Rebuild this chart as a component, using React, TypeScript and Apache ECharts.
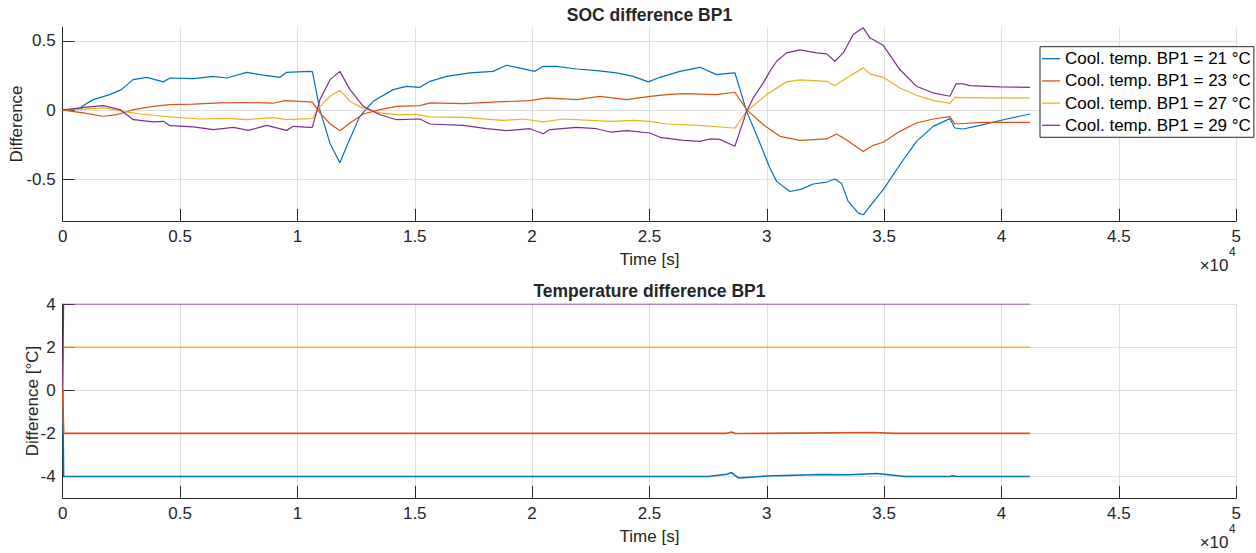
import React, { useEffect, useRef } from "react";
import * as echarts from "echarts";

const FONT = '"Liberation Sans", Arial, Helvetica, sans-serif';
const AX = "#262626";
const GRID = "#dfdfdf";

const seriesNames = [
  "Cool. temp. BP1 = 21 °C",
  "Cool. temp. BP1 = 23 °C",
  "Cool. temp. BP1 = 27 °C",
  "Cool. temp. BP1 = 29 °C",
];
const colors = ["#0072BD", "#D95319", "#EDB120", "#7E2F8E"];

const socYTicks = [-0.5, 0, 0.5];
const tempYTicks = [-4, -2, 0, 2, 4];

// SOC difference, 21 °C
const soc21T = [0, 800, 810, 1300, 2000, 2500, 3000, 3580, 4290, 4570, 5560, 6420, 6990, 7840, 8400, 9260, 9540, 10530, 10640, 10960, 11390, 11810, 12100, 12660, 13230, 14080, 14650, 15220, 15650, 16360, 17350, 18340, 18910, 19340, 20120, 20470, 21040, 21900, 22750, 23600, 24310, 24950, 25450, 26300, 27150, 27860, 28570, 28640, 29140, 29560, 29850, 30130, 30420, 30980, 31480, 31980, 32550, 32900, 33190, 33470, 33900, 34110, 34390, 34960, 35670, 36380, 37090, 37800, 38010, 38370, 39220, 40220, 41210];
const soc21V = [0, 0.01, 0.027, 0.076, 0.112, 0.148, 0.22, 0.237, 0.204, 0.232, 0.227, 0.244, 0.232, 0.273, 0.256, 0.237, 0.273, 0.28, 0.278, 0.0, -0.24, -0.38, -0.26, -0.045, 0.064, 0.148, 0.172, 0.165, 0.208, 0.244, 0.269, 0.28, 0.324, 0.309, 0.28, 0.316, 0.316, 0.297, 0.285, 0.269, 0.244, 0.204, 0.237, 0.28, 0.309, 0.256, 0.269, 0.27, -0.009, -0.177, -0.298, -0.418, -0.514, -0.587, -0.57, -0.533, -0.519, -0.497, -0.53, -0.659, -0.743, -0.755, -0.695, -0.574, -0.394, -0.225, -0.117, -0.061, -0.129, -0.136, -0.105, -0.064, -0.028];

// SOC difference, 23 °C
const soc23T = [0, 880, 1730, 2300, 3010, 3860, 4570, 5570, 6700, 7840, 8970, 9470, 10530, 10640, 10960, 11390, 11810, 12240, 12810, 13520, 14230, 15220, 15650, 17070, 18490, 19910, 20620, 21900, 22890, 24030, 25020, 25730, 26440, 27860, 28640, 29140, 29850, 30560, 31410, 32550, 32970, 33260, 34110, 34530, 34960, 35670, 36380, 37090, 37800, 38010, 39220, 41210];
const soc23V = [0, -0.02, -0.044, -0.033, 0.004, 0.027, 0.04, 0.044, 0.052, 0.055, 0.05, 0.069, 0.059, 0.058, -0.02, -0.098, -0.148, -0.093, -0.028, 0.004, 0.027, 0.033, 0.052, 0.047, 0.059, 0.069, 0.088, 0.076, 0.1, 0.076, 0.1, 0.112, 0.119, 0.112, 0.129, 0.004, -0.105, -0.189, -0.218, -0.208, -0.172, -0.2, -0.298, -0.254, -0.232, -0.153, -0.093, -0.064, -0.047, -0.1, -0.088, -0.088];

// SOC difference, 27 °C
const soc27T = [0, 880, 1730, 2730, 3290, 4570, 5850, 6990, 7840, 8970, 9540, 10530, 10640, 10960, 11390, 11810, 12240, 12810, 13520, 14230, 15080, 15650, 17070, 18770, 19620, 20470, 21330, 23320, 24310, 25020, 25730, 27150, 28570, 28640, 29140, 29990, 30840, 31410, 32550, 32900, 33400, 34110, 34390, 34960, 35670, 36380, 37090, 37800, 38010, 39220, 41210];
const soc27V = [0, 0.008, 0.016, -0.013, -0.028, -0.049, -0.064, -0.059, -0.069, -0.054, -0.069, -0.061, -0.06, 0.025, 0.1, 0.143, 0.064, 0.011, -0.02, -0.033, -0.033, -0.049, -0.052, -0.074, -0.064, -0.085, -0.064, -0.081, -0.074, -0.081, -0.1, -0.11, -0.129, -0.13, -0.009, 0.112, 0.204, 0.218, 0.208, 0.177, 0.232, 0.305, 0.262, 0.237, 0.16, 0.107, 0.071, 0.049, 0.092, 0.088, 0.088];

// SOC difference, 29 °C
const soc29T = [0, 880, 1730, 2440, 3010, 3860, 4290, 4570, 5570, 6420, 7270, 7910, 8690, 9540, 9820, 10530, 10640, 10960, 11390, 11810, 12240, 12810, 13520, 14230, 15220, 15650, 17070, 18060, 18910, 19910, 20470, 20760, 21900, 22750, 23320, 24030, 25020, 25450, 26440, 27150, 27580, 28000, 28640, 28850, 29140, 29420, 29850, 30130, 30420, 30840, 31410, 32120, 32550, 32900, 33260, 33680, 34110, 34390, 34960, 35670, 36380, 37090, 37800, 38060, 38370, 38650, 39930, 41210];
const soc29V = [0, 0.02, 0.033, 0.004, -0.069, -0.085, -0.081, -0.112, -0.121, -0.141, -0.124, -0.146, -0.11, -0.146, -0.117, -0.124, -0.123, 0.076, 0.22, 0.28, 0.148, 0.027, -0.033, -0.069, -0.064, -0.1, -0.11, -0.134, -0.148, -0.134, -0.17, -0.14, -0.124, -0.134, -0.158, -0.148, -0.165, -0.196, -0.218, -0.225, -0.208, -0.211, -0.261, -0.153, -0.009, 0.088, 0.197, 0.28, 0.353, 0.413, 0.435, 0.413, 0.406, 0.353, 0.413, 0.546, 0.594, 0.522, 0.468, 0.293, 0.172, 0.124, 0.1, 0.189, 0.189, 0.177, 0.168, 0.165];

// Temperature difference
const temp21T = [0, 40, 800, 27500, 28300, 28500, 28640, 28800, 30000, 31500, 32300, 33500, 34700, 35900, 37800, 37900, 38100, 41210];
const temp21V = [0, -4, -4, -4, -3.9, -3.82, -3.95, -4.07, -3.98, -3.93, -3.91, -3.92, -3.86, -4.0, -4.0, -3.97, -4.0, -4.0];
const temp23T = [0, 40, 28300, 28500, 28640, 28900, 34500, 35500, 41210];
const temp23V = [0, -2, -2, -1.94, -2, -2.01, -1.96, -2, -2];
const temp27T = [0, 40, 41210];
const temp27V = [0, 2, 2];
const temp29T = [0, 40, 41210];
const temp29V = [0, 4, 4];

const socT = [soc21T, soc23T, soc27T, soc29T];
const socV = [soc21V, soc23V, soc27V, soc29V];
const tempT = [temp21T, temp23T, temp27T, temp29T];
const tempV = [temp21V, temp23V, temp27V, temp29V];

const pairs = (t: number[], v: number[]) => t.map((x, i) => [x, v[i]]);

const GRID_LEFT = 62.7;
const GRID_RIGHT = 19.8;
const TOP1 = 27;
const TOP2 = 304;
const H = 194;

function xAxis(gridIndex: number) {
  return {
    type: "value",
    gridIndex,
    min: 0,
    max: 50000,
    interval: 5000,
    name: "Time [s]",
    nameLocation: "middle",
    nameGap: 30,
    nameMoveOverlap: false,
    nameTextStyle: { fontSize: 17, color: AX, fontFamily: FONT },
    axisLine: { show: true, onZero: false, lineStyle: { color: AX, width: 1 } },
    axisTick: { show: true, inside: true, length: 12, lineStyle: { color: AX, width: 1 } },
    axisLabel: {
      show: true,
      margin: 7,
      fontSize: 17,
      color: AX,
      fontFamily: FONT,
      hideOverlap: false,
      formatter: (v: number) => String(Math.round(v / 1000) / 10),
    },
    splitLine: { show: true, lineStyle: { color: GRID, width: 1 } },
  };
}

function yAxis(gridIndex: number, min: number, max: number, ticks: number[], name: string, nameGap: number) {
  return {
    type: "value",
    gridIndex,
    min,
    max,
    name,
    nameLocation: "middle",
    nameGap,
    nameMoveOverlap: false,
    nameTextStyle: { fontSize: 17, color: AX, fontFamily: FONT },
    axisLine: { show: true, onZero: false, lineStyle: { color: AX, width: 1 } },
    axisTick: { show: true, inside: true, length: 12, customValues: ticks, lineStyle: { color: AX, width: 1 } },
    axisLabel: {
      show: true,
      margin: 7,
      fontSize: 17,
      color: AX,
      fontFamily: FONT,
      customValues: ticks,
      formatter: (v: number) => String(v),
    },
    splitLine: { show: true, lineStyle: { color: GRID, width: 1 } },
  };
}

export default function App() {
  const ref = useRef<HTMLDivElement>(null);
  useEffect(() => {
    if (!ref.current) return;
    const chart = echarts.init(ref.current, null, { renderer: "svg" });
    const series: any[] = [];
    for (let i = 0; i < 4; i++) {
      series.push({
        type: "line",
        name: seriesNames[i],
        xAxisIndex: 0,
        yAxisIndex: 0,
        data: pairs(socT[i], socV[i]),
        symbol: "none",
        showSymbol: false,
        silent: true,
        color: colors[i],
        lineStyle: { color: colors[i], width: 1.2 },
      });
    }
    for (let i = 0; i < 4; i++) {
      series.push({
        type: "line",
        name: seriesNames[i],
        xAxisIndex: 1,
        yAxisIndex: 1,
        data: pairs(tempT[i], tempV[i]),
        symbol: "none",
        showSymbol: false,
        silent: true,
        color: colors[i],
        lineStyle: { color: colors[i], width: i < 2 ? 1.6 : 1.2 },
      });
    }
    const graphicText = (text: string, x: number, y: number, font: string, align: string) => ({
      type: "text",
      x,
      y,
      silent: true,
      style: {
        text,
        font,
        fill: AX,
        align,
        verticalAlign: "middle",
        textAlign: align,
        textVerticalAlign: "middle",
      },
    });
    const xRight = 1256 - GRID_RIGHT;
    chart.setOption({
      animation: false,
      backgroundColor: "#ffffff",
      textStyle: { fontFamily: FONT },
      grid: [
        { left: GRID_LEFT, right: GRID_RIGHT, top: TOP1, height: H, containLabel: false, outerBoundsMode: "none" },
        { left: GRID_LEFT, right: GRID_RIGHT, top: TOP2, height: H, containLabel: false, outerBoundsMode: "none" },
      ],
      xAxis: [xAxis(0), xAxis(1)],
      yAxis: [
        yAxis(0, -0.8, 0.6, socYTicks, "Difference", 38),
        yAxis(1, -5, 4, tempYTicks, "Difference [°C]", 22),
      ],
      legend: {
        show: true,
        orient: "vertical",
        left: 1040,
        top: 46.7,
        data: seriesNames,
        icon: "rect",
        itemWidth: 18,
        itemHeight: 1.3,
        itemGap: 2.2,
        padding: [2, 3, 2, 2],
        borderColor: AX,
        borderWidth: 1,
        borderRadius: 0,
        backgroundColor: "#ffffff",
        selectedMode: false,
        textStyle: { fontSize: 17, color: "#000", fontFamily: FONT, lineHeight: 20 },
      },
      graphic: [
        graphicText("SOC difference BP1", (GRID_LEFT + xRight) / 2, 15, `bold 17.5px ${FONT}`, "center"),
        graphicText("Temperature difference BP1", (GRID_LEFT + xRight) / 2, 291, `bold 17.5px ${FONT}`, "center"),
        graphicText("×10", 1228.5, 265.5, `17px ${FONT}`, "right"),
        graphicText("4", 1229, 252, `12px ${FONT}`, "left"),
        graphicText("×10", 1228.5, 542.5, `17px ${FONT}`, "right"),
        graphicText("4", 1229, 529, `12px ${FONT}`, "left"),
      ],
      series,
    });
    return () => chart.dispose();
  }, []);
  return (
    <div
      ref={ref}
      style={{ position: "fixed", left: 0, top: 0, width: 1256, height: 553, background: "#fff" }}
    />
  );
}
